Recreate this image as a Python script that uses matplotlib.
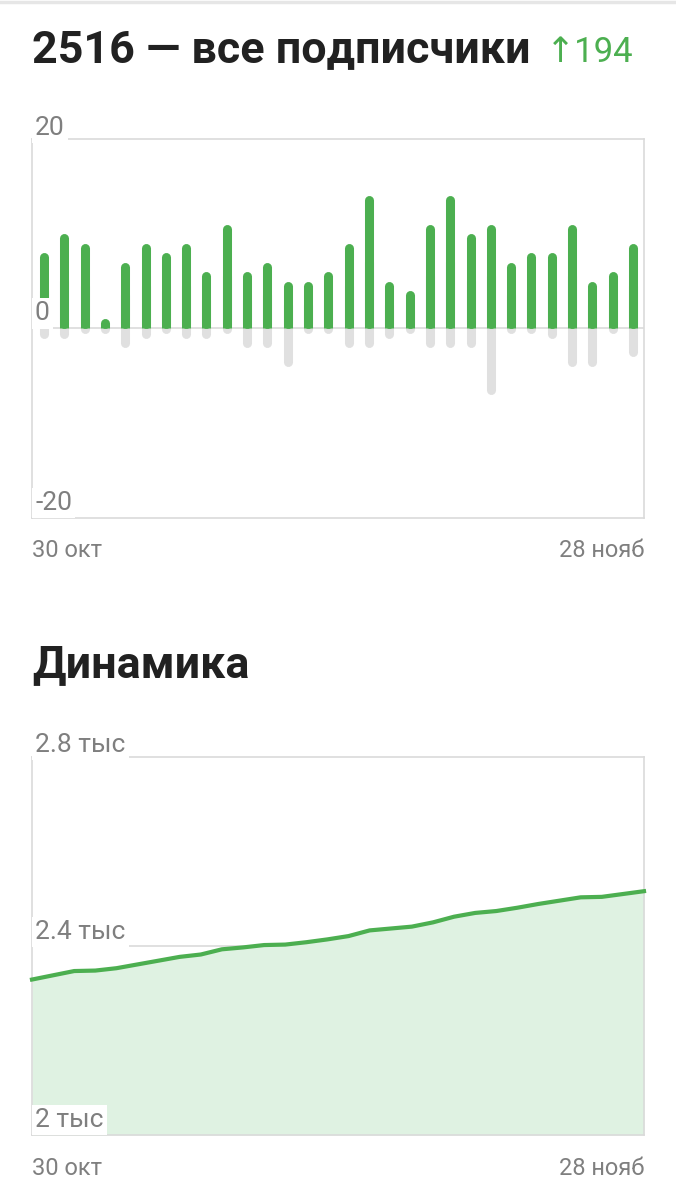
import numpy as np
import matplotlib
matplotlib.use("Agg")
import matplotlib.pyplot as plt
from matplotlib.lines import Line2D

plt.rcParams['font.family'] = ['Roboto', 'DejaVu Sans']

# daily joins / leaves, 30 Oct .. 28 Nov
joined = [8, 10, 9, 1, 7, 9, 8, 9, 6, 11, 6, 7, 5, 5, 6, 9, 14, 5, 4, 11,
          14, 10, 11, 7, 8, 8, 11, 5, 6, 9]
left = [1, 1, 0, 0, 2, 1, 0, 1, 1, 0, 2, 2, 4, 0, 0, 2, 2, 1, 0, 2,
        2, 2, 7, 0, 0, 1, 4, 4, 0, 3]
# total subscribers at end of each day
total = [2329, 2338, 2347, 2348, 2353, 2361, 2369, 2377, 2382, 2393,
         2397, 2402, 2403, 2408, 2414, 2421, 2433, 2437, 2441, 2450,
         2462, 2470, 2474, 2481, 2489, 2496, 2503, 2504, 2510, 2516]
bar_ticks = [20, 0, -20]
bar_tick_labels = ["20", "0", "-20"]
dyn_ticks = [2800, 2400, 2000]
dyn_tick_labels = ["2.8 тыс", "2.4 тыс", "2 тыс"]
date_labels = ["30 окт", "28 нояб"]
title = "2516 — все подписчики"
delta = "↑194"

GREEN = "#4caf50"
GREY_BAR = "#e0e0e0"
FILL = "#dff2e2"
FRAME = "#dadada"
LABEL = "#7f7f7f"
DARK = "#212121"

W, H = 676, 1200
fig = plt.figure(figsize=(W / 100, H / 100), dpi=100)


def px_axes(left_px, top_px, right_px, bottom_px):
    return fig.add_axes([left_px / W, 1 - bottom_px / H,
                         (right_px - left_px) / W, (bottom_px - top_px) / H])


def style_frame(ax):
    ax.set_xticks([])
    ax.set_yticks([])
    for s in ax.spines.values():
        s.set_color(FRAME)
        s.set_linewidth(1.2)


def ylabel(ax, val, txt, dy):
    ax.annotate(txt, xy=(0, val), xycoords=('axes fraction', 'data'),
                xytext=(3, dy), textcoords='offset pixels', ha='left',
                va='baseline', fontsize=19, color=LABEL, zorder=5,
                annotation_clip=False,
                bbox=dict(boxstyle='square,pad=0.12', fc='white', ec='none'))


# top separator
fig.add_artist(Line2D([0, 1], [1 - 2 / H, 1 - 2 / H], color="#e6e6e6", lw=2.5))

fig.text(32 / W, 1 - 62 / H, title, fontsize=32.3, fontweight='bold',
         color=DARK, va='baseline', ha='left')
fig.text(546 / W, 1 - 62 / H, delta, fontsize=25, color=GREEN,
         va='baseline', ha='left')

# ---- bars ----
ax1 = px_axes(32, 139, 644, 518)
style_frame(ax1)
x = np.arange(len(joined))
ax1.set_xlim(-0.59, 29.54)
ax1.set_ylim(-20, 20)
ax1.axhline(0, color=FRAME, lw=1.2, zorder=1)

lw = 6.5
cap = 0.47
j = np.array(joined, dtype=float)
l = np.array(left, dtype=float)
ax1.vlines(x, 0, -np.maximum(l - cap, 0.05), colors=GREY_BAR, lw=lw,
           capstyle='round', zorder=2)
ax1.vlines(x, 0, j / 2, colors=GREEN, lw=lw, capstyle='butt', zorder=3)
ax1.vlines(x, np.minimum(cap, j / 2), np.maximum(j - cap, j / 2), colors=GREEN,
           lw=lw, capstyle='round', zorder=3)

for v, t, dy in zip(bar_ticks, bar_tick_labels, [4, 8, 8]):
    ylabel(ax1, v, t, dy)

fig.text(32 / W, 1 - 557 / H, date_labels[0], fontsize=17, color=LABEL,
         ha='left', va='baseline')
fig.text(644 / W, 1 - 557 / H, date_labels[1], fontsize=17, color=LABEL,
         ha='right', va='baseline')

# ---- dynamics ----
fig.text(32 / W, 1 - 677 / H, "Динамика", fontsize=32.3, fontweight='bold',
         color=DARK, va='baseline', ha='left')

ax2 = px_axes(32, 757, 644, 1135)
style_frame(ax2)
xd = np.arange(len(total))
ax2.set_xlim(0, len(total) - 1)
ax2.set_ylim(2000, 2800)
ax2.axhline(2400, color=FRAME, lw=1.2, zorder=1)
ax2.fill_between(xd, 2000, total, color=FILL, lw=0, zorder=2)
ax2.plot(xd, total, color=GREEN, lw=3, solid_joinstyle='round', zorder=4,
         clip_on=False)

for v, t, dy in zip(dyn_ticks, dyn_tick_labels, [5, 7, 8]):
    ylabel(ax2, v, t, dy)

fig.text(32 / W, 1 - 1175 / H, date_labels[0], fontsize=17, color=LABEL,
         ha='left', va='baseline')
fig.text(644 / W, 1 - 1175 / H, date_labels[1], fontsize=17, color=LABEL,
         ha='right', va='baseline')

fig.savefig("out.png", dpi=100, facecolor='white')
